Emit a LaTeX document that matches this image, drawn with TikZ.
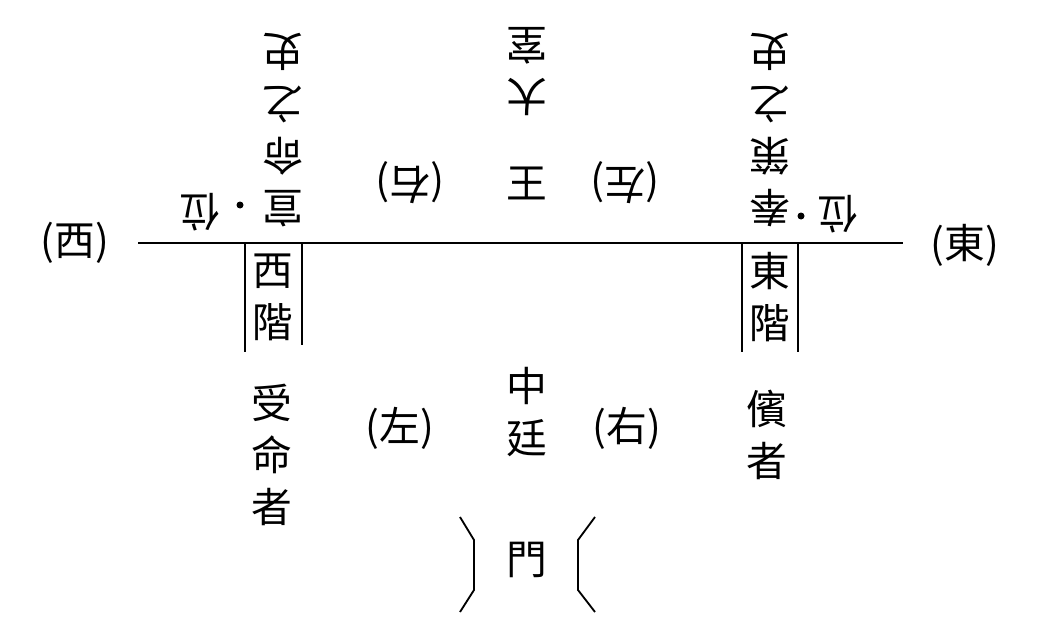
\documentclass[tikz,border=0pt]{standalone}
\usepackage{fontspec}
\setmainfont{Noto Sans CJK TC}
\usetikzlibrary{positioning}

\begin{document}
\begin{tikzpicture}[x=0.025cm, y=-0.025cm, line width=1.3pt,
  every node/.style={font=\fontsize{29}{37}\selectfont, inner sep=0pt, align=center},
  flip/.style={rotate=180}]
  \useasboundingbox (0,0) rectangle (1044,630);
  % the hall line
  \coordinate (hall w) at (138,243);
  \coordinate (hall e) at (903,243);
  \draw (hall w) -- (hall e);
  \node (west) at (75,243) {(西)};
  \node (east) at (965,245) {(東)};
  % upper side, written upside down
  \node[flip] (hall) at (527,72) {大\\室};
  \node (king) at (527,183) {王};
  \node[flip] (kright) at (410,183) {(右)};
  \node[flip] (kleft) at (625,183) {(左)};
  \node[flip] (wscribe) at (283,130) {宣\\命\\之\\史};
  \node[flip] (escribe) at (770,130) {奉\\策\\之\\史};
  \node[flip] (wpos) at (200,212) {位};
  \node[flip] (epos) at (838,214) {位};
  \fill (240,205) circle (3.5);
  \fill (801,216) circle (3.5);
  % stairs
  \node (wstair) at (273,297) {西\\階};
  \node (estair) at (770,297) {東\\階};
  \draw (245,243) -- (245,352) (302,243) -- (302,345);
  \draw (742,243) -- (742,352) (798,243) -- (798,352);
  \node (guest) at (272,455) {受\\命\\者};
  \node (usher) at (767,435) {儐\\者};
  % court and gate
  \node (court) at (527,412) {中\\廷};
  \node (left) at (400,428) {(左)};
  \node (right) at (627,428) {(右)};
  \node (gate) at (527,560) {門};
  \draw (460,517) -- (474,540) -- (474,590) -- (460,612);
  \draw (595,517) -- (578,540) -- (578,590) -- (595,612);
\end{tikzpicture}
\end{document}
